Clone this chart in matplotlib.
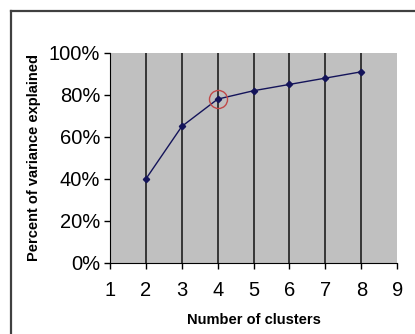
import matplotlib
matplotlib.use("Agg")
import matplotlib.pyplot as plt
from matplotlib.lines import Line2D
from matplotlib.ticker import PercentFormatter

# Elbow curve: share of variance explained per number of clusters
clusters = [2, 3, 4, 5, 6, 7, 8]
variance_pct = [40, 65, 78, 82, 85, 88, 91]
elbow_k = 4
x_ticks = [1, 2, 3, 4, 5, 6, 7, 8, 9]
y_ticks = [0, 20, 40, 60, 80, 100]

plt.rcParams["font.family"] = ["Liberation Sans", "DejaVu Sans"]

fig = plt.figure(figsize=(4.15, 3.34), dpi=100)
fig.patch.set_facecolor("white")
ax = fig.add_axes([0.265, 0.2126, 0.692, 0.629])
ax.set_facecolor("#c0c0c0")

# outer chart frame (top and left edges visible)
fig.add_artist(Line2D([11 / 415, 11 / 415], [0, 1 - 11 / 334], color="#404040", lw=1.6))
fig.add_artist(Line2D([11 / 415, 1], [1 - 11 / 334, 1 - 11 / 334], color="#404040", lw=1.6))

for k in x_ticks[1:-1]:
    ax.axvline(k, color="#101010", lw=1.1, zorder=1)

ax.plot(clusters, variance_pct, color="#14145a", lw=1.0, marker="D",
        markersize=3.2, zorder=3)

elbow_val = variance_pct[clusters.index(elbow_k)]
ax.plot([elbow_k], [elbow_val], marker="o", markersize=13, markerfacecolor="none",
        markeredgecolor="#c04848", markeredgewidth=1.0, zorder=4)

ax.set_xlim(1, 9)
ax.set_ylim(0, 100)
ax.set_xticks(x_ticks)
ax.set_yticks(y_ticks)
ax.yaxis.set_major_formatter(PercentFormatter(decimals=0))

for side in ("top", "right"):
    ax.spines[side].set_visible(False)
ax.spines["left"].set_color("black")
ax.spines["bottom"].set_color("black")
ax.tick_params(direction="out", length=4, width=1, colors="black",
               labelsize=14.5)
ax.tick_params(axis="x", pad=9)
ax.tick_params(axis="y", pad=3)

ax.set_xlabel("Number of clusters", fontsize=10.5, fontweight="bold", labelpad=9)
ax.set_ylabel("Percent of variance explained", fontsize=10.5, fontweight="bold",
              labelpad=6)

fig.savefig("out.png", dpi=100, facecolor="white")
